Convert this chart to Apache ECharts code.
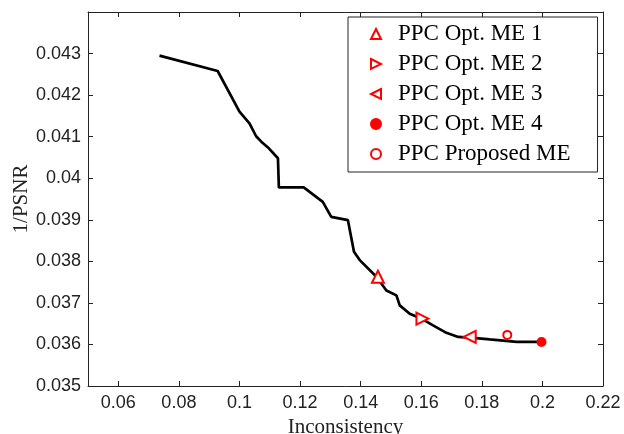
<!DOCTYPE html>
<html>
<head>
<meta charset="utf-8">
<script src="https://cdn.jsdelivr.net/npm/echarts@6/dist/echarts.min.js"></script>
<style>html,body{margin:0;padding:0;background:#fff;}#c{width:624px;height:434px;}</style>
</head>
<body>
<div id="c"></div>
<script>
// Curve data (Inconsistency, 1/PSNR)
var curveX = [0.0736, 0.0928, 0.1000, 0.1033, 0.1055, 0.1072, 0.1097, 0.1127, 0.1130, 0.1212, 0.1275, 0.1303, 0.1358, 0.1378, 0.1397, 0.1452, 0.1485, 0.1518, 0.1529, 0.1562, 0.1601, 0.1639, 0.1683, 0.1722, 0.1771, 0.1826, 0.1915, 0.1997];
var curveY = [0.04295, 0.04258, 0.0416, 0.04132, 0.04101, 0.04088, 0.04072, 0.04048, 0.03978, 0.03978, 0.03943, 0.03907, 0.03899, 0.03823, 0.03803, 0.03763, 0.0373, 0.03718, 0.03694, 0.03674, 0.03662, 0.03646, 0.03628, 0.03618, 0.03616, 0.03612, 0.03606, 0.03606];
// Marker series
var markerNames = ['PPC Opt. ME 1', 'PPC Opt. ME 2', 'PPC Opt. ME 3', 'PPC Opt. ME 4', 'PPC Proposed ME'];
var markerX = [0.1457, 0.1604, 0.1760, 0.1997, 0.1884];
var markerY = [0.03763, 0.03662, 0.03618, 0.03606, 0.03623];
// Tick labels
var xTicks = [0.06, 0.08, 0.1, 0.12, 0.14, 0.16, 0.18, 0.2, 0.22];
var yTicks = [0.035, 0.036, 0.037, 0.038, 0.039, 0.04, 0.041, 0.042, 0.043];

var markerSymbols = ['emptyTriangle', 'emptyTriangle', 'emptyTriangle', 'circle', 'emptyCircle'];
var markerRotate = [0, -90, 90, 0, 0];
var markerSizes = [12, 12, 12, 8, 8];
var legendIcons = ['emptyTriangle', 'path://M0,0 L10,5 L0,10 Z', 'path://M10,0 L0,5 L10,10 Z', 'circle', 'emptyCircle'];

var chart = echarts.init(document.getElementById('c'), null, {renderer: 'canvas'});
var axisCommon = {
  axisLine: {show: true, onZero: false, lineStyle: {color: '#222', width: 1}},
  axisTick: {show: true, inside: true, length: 5, lineStyle: {color: '#222', width: 1}},
  splitLine: {show: false}
};
var series = [{
  type: 'line',
  name: 'curve',
  data: curveX.map(function (x, i) { return [x, curveY[i]]; }),
  showSymbol: false,
  symbol: 'none',
  lineStyle: {color: '#000', width: 2.7},
  itemStyle: {color: '#000'},
  animation: false,
  z: 2
}];
markerNames.forEach(function (n, i) {
  series.push({
    type: 'scatter',
    name: n,
    data: [[markerX[i], markerY[i]]],
    symbol: markerSymbols[i],
    symbolRotate: markerRotate[i],
    symbolSize: markerSizes[i],
    itemStyle: {color: '#f00', borderColor: '#f00', borderWidth: 2, opacity: 1},
    animation: false,
    z: 5
  });
});
chart.setOption({
  animation: false,
  grid: {left: 88, right: 21, top: 12, bottom: 48, containLabel: false, outerBoundsMode: 'none'},
  legend: {
    data: markerNames.map(function (n, i) {
      var d = {name: n, icon: legendIcons[i]};
      if (legendIcons[i].indexOf('path://') === 0) {
        d.itemStyle = {color: '#fff', borderColor: '#f00', borderWidth: 2};
      }
      return d;
    }),
    orient: 'vertical',
    left: 348, top: 17,
    padding: [5, 27, 6, 22],
    itemGap: 6,
    itemWidth: 10, itemHeight: 10,
    symbolKeepAspect: true,
    itemStyle: {borderWidth: 2},
    borderColor: '#222', borderWidth: 1,
    backgroundColor: '#fff',
    textStyle: {fontFamily: 'Liberation Serif', fontSize: 23, color: '#000', lineHeight: 24, padding: [0, 0, 0, 12]}
  },
  xAxis: [
    Object.assign({}, axisCommon, {
      type: 'value', position: 'bottom', min: 0.05, max: 0.22,
      axisLabel: {customValues: xTicks, fontFamily: 'Liberation Sans', fontSize: 18, color: '#222', margin: 8},
      axisTick: Object.assign({}, axisCommon.axisTick, {customValues: xTicks}),
      name: 'Inconsistency', nameLocation: 'middle', nameGap: 30,
      nameTextStyle: {fontFamily: 'Liberation Serif', fontSize: 21, color: '#222'}
    }),
    Object.assign({}, axisCommon, {
      type: 'value', position: 'top', min: 0.05, max: 0.22,
      axisLabel: {show: false, customValues: xTicks},
      axisTick: Object.assign({}, axisCommon.axisTick, {customValues: xTicks})
    })
  ],
  yAxis: [
    Object.assign({}, axisCommon, {
      type: 'value', position: 'left', min: 0.035, max: 0.044,
      axisLabel: {customValues: yTicks, fontFamily: 'Liberation Sans', fontSize: 18, color: '#222', margin: 7},
      axisTick: Object.assign({}, axisCommon.axisTick, {customValues: yTicks}),
      name: '1/PSNR', nameLocation: 'middle', nameGap: 56, nameMoveOverlap: false,
      nameTextStyle: {fontFamily: 'Liberation Serif', fontSize: 21, color: '#222'}
    }),
    Object.assign({}, axisCommon, {
      type: 'value', position: 'right', min: 0.035, max: 0.044,
      axisLabel: {show: false, customValues: yTicks},
      axisTick: Object.assign({}, axisCommon.axisTick, {customValues: yTicks})
    })
  ],
  series: series
});
</script>
</body>
</html>
